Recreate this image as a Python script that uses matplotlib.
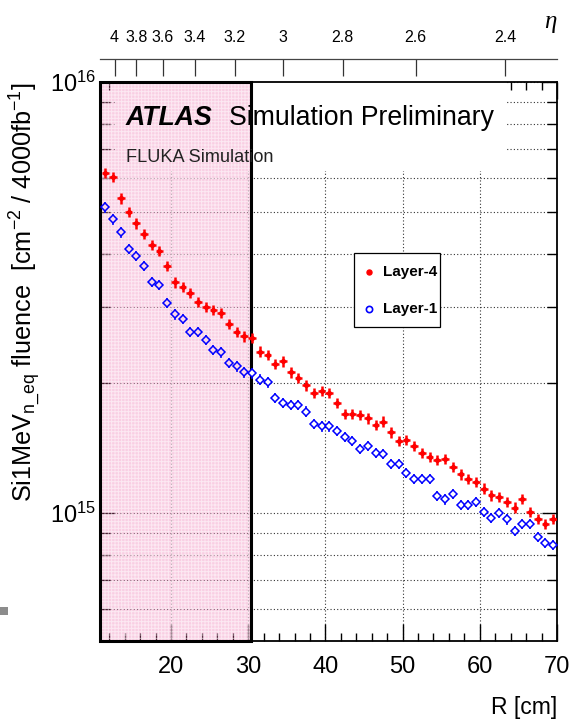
import numpy as np
import matplotlib
matplotlib.use("Agg")
import matplotlib.pyplot as plt
from matplotlib.patches import Rectangle
from matplotlib.lines import Line2D
from matplotlib.ticker import MultipleLocator, LogLocator, NullFormatter, NullLocator

plt.rcParams['font.family'] = ['Liberation Sans', 'DejaVu Sans']
plt.rcParams['mathtext.fontset'] = 'custom'
plt.rcParams['mathtext.rm'] = 'Liberation Sans'
plt.rcParams['mathtext.it'] = 'Liberation Sans:italic'
plt.rcParams['mathtext.bf'] = 'Liberation Sans:bold'
plt.rcParams['hatch.linewidth'] = 0.7

# radial bin centres [cm], 1 cm bins
radius = np.arange(11.5, 70.0, 1.0)

# 1 MeV neq fluence for 4000 fb^-1 [cm^-2]
layer4 = np.array([
    6.16, 6.03, 5.37, 5.00, 4.70, 4.44, 4.19, 4.06, 3.74, 3.43,
    3.35, 3.24, 3.09, 3.01, 2.96, 2.91, 2.75, 2.63, 2.57, 2.55,
    2.37, 2.33, 2.22, 2.25, 2.12, 2.06, 1.98, 1.90, 1.92, 1.90,
    1.80, 1.70, 1.70, 1.69, 1.66, 1.60, 1.63, 1.54, 1.47, 1.48,
    1.43, 1.38, 1.35, 1.33, 1.335, 1.28, 1.23, 1.20, 1.18, 1.14,
    1.10, 1.09, 1.06, 1.03, 1.08, 1.007, 0.970, 0.943, 0.970]) * 1e15
layer1 = np.array([
    5.12, 4.80, 4.48, 4.10, 3.95, 3.74, 3.44, 3.38, 3.07, 2.89,
    2.82, 2.63, 2.63, 2.52, 2.39, 2.36, 2.23, 2.19, 2.12, 2.11,
    2.04, 2.01, 1.85, 1.80, 1.78, 1.78, 1.72, 1.61, 1.59, 1.59,
    1.55, 1.50, 1.47, 1.41, 1.43, 1.38, 1.37, 1.30, 1.30, 1.24,
    1.20, 1.20, 1.20, 1.095, 1.076, 1.107, 1.044, 1.044, 1.062, 1.007,
    0.975, 1.002, 0.967, 0.910, 0.943, 0.943, 0.881, 0.853, 0.843]) * 1e15
rel_err = 0.028
bin_half = 0.5

eta_ticks = [4, 3.8, 3.6, 3.4, 3.2, 3, 2.8, 2.6, 2.4]
eta_labels = ["4", "3.8", "3.6", "3.4", "3.2", "3", "2.8", "2.6", "2.4"]
z_disk = 346.0      # cm
r_shade = 30.3      # inner region shaded

xmin, xmax = 10.8, 70.0
ymin, ymax = 5.05e14, 1e16


def r_to_eta(r):
    r = np.asarray(r, dtype=float)
    with np.errstate(divide='ignore', invalid='ignore'):
        return np.arcsinh(z_disk / r)


def eta_to_r(eta):
    eta = np.asarray(eta, dtype=float)
    with np.errstate(divide='ignore', invalid='ignore'):
        return z_disk / np.sinh(eta)


fig = plt.figure(figsize=(5.72, 7.2), dpi=100)
ax = fig.add_axes([100/572, 79/720, 457/572, 559/720])
ax.set_xlim(xmin, xmax)
ax.set_yscale('log')
ax.set_ylim(ymin, ymax)
ax.set_axisbelow(True)

# grid
dots = (0, (1, 2))
ax.xaxis.set_major_locator(MultipleLocator(10))
ax.xaxis.set_minor_locator(MultipleLocator(2))
ax.yaxis.set_major_locator(LogLocator(base=10))
ax.yaxis.set_minor_locator(LogLocator(base=10, subs=np.arange(2, 10)))
ax.yaxis.set_minor_formatter(NullFormatter())
ax.grid(which='major', axis='x', ls=dots, color='#333333', lw=0.8)
ax.grid(which='both', axis='y', ls=dots, color='#333333', lw=0.8)

# white box behind the labels
ax.add_patch(Rectangle((0.037, 0.841), 0.849, 0.159, transform=ax.transAxes,
                       fc='white', ec='none', zorder=0.8))

# shaded inner region
ax.axvspan(xmin, r_shade, fc=(0.93, 0.41, 0.66, 0.32), ec='none', zorder=1)
ax.axvspan(xmin, r_shade, fc='none', ec=(1, 1, 1, 0.55), lw=0, hatch='+++++', zorder=1.1)
ax.axvspan(xmin, r_shade, fc='none', ec='black', lw=2.2, zorder=2.6, clip_on=False)

# Layer-4
ax.errorbar(radius, layer4, xerr=bin_half, yerr=rel_err * layer4, fmt='o', color='red',
            ms=2.7, elinewidth=1.8, capsize=0, zorder=4)

# Layer-1
ax.errorbar(radius, layer1, xerr=bin_half, yerr=rel_err * layer1, fmt='none', ecolor='blue',
            elinewidth=1.1, capsize=0, zorder=3)
inner = radius < r_shade
ax.plot(radius[inner], layer1[inner], ls='none', marker='D', ms=3.6, mew=1.1,
        mec='blue', mfc='#fbd6e6', zorder=3.5)
ax.plot(radius[~inner], layer1[~inner], ls='none', marker='D', ms=3.6, mew=1.1,
        mec='blue', mfc='white', zorder=3.5)

for s in ax.spines.values():
    s.set_linewidth(1.3)

ax.tick_params(which='both', direction='in', top=True, right=True, width=1.0)
ax.tick_params(axis='x', which='major', length=12, labelsize=17, pad=11)
ax.tick_params(axis='x', which='minor', length=6)
ax.tick_params(axis='y', which='major', length=11, labelsize=17, pad=3)
ax.tick_params(axis='y', which='minor', length=7)

ax.set_xlabel('R [cm]', loc='right', fontsize=16.5, labelpad=13)
ax.set_ylabel(r'Si1MeV$_{\mathregular{n\_eq}}$ fluence  [cm$^{\mathregular{-2}}$ / 4000fb$^{\mathregular{-1}}$]',
              loc='top', fontsize=18.2, labelpad=4)

# pseudorapidity scale
secax = ax.secondary_xaxis(1.041, functions=(r_to_eta, eta_to_r))
secax.set_xticks(eta_ticks, labels=eta_labels)
secax.xaxis.set_minor_locator(NullLocator())
secax.tick_params(direction='in', length=12, width=0.9, labelsize=11.5, pad=10, color='#333333')
for s in secax.spines.values():
    s.set_linewidth(0.9)
    s.set_color('#444444')
fig.text(550/572, 1 - 22/720, 'η', family='Liberation Serif', style='italic',
         fontsize=18, ha='center', va='center')

ax.text(0.0569, 0.923, 'ATLAS', transform=ax.transAxes, fontsize=19.2,
        fontweight='bold', style='italic', va='baseline', zorder=6)
ax.text(0.2823, 0.923, 'Simulation Preliminary', transform=ax.transAxes, fontsize=19.2,
        va='baseline', zorder=6)
ax.text(0.0569, 0.8574, 'FLUKA Simulation', transform=ax.transAxes, fontsize=13.1,
        color='#222222', va='baseline', zorder=6)

# legend
fig.add_artist(Rectangle((354/572, 1 - 327/720), 86/572, 74/720, transform=fig.transFigure,
                         fc='white', ec='black', lw=0.9, zorder=5))
fig.add_artist(Line2D([369/572], [1 - 272/720], marker='o', ms=3.6, color='red', ls='none',
                      transform=fig.transFigure, zorder=6))
fig.add_artist(Line2D([369/572], [1 - 309/720], marker='o', ms=4.5, mfc='white', mec='blue',
                      mew=1.2, ls='none', transform=fig.transFigure, zorder=6))
fig.text(383/572, 1 - 272/720, 'Layer-4', fontsize=11, fontweight='bold', va='center', zorder=6)
fig.text(383/572, 1 - 309/720, 'Layer-1', fontsize=11, fontweight='bold', va='center', zorder=6)

fig.add_artist(Rectangle((0, 1 - 615/720), 8/572, 8/720, transform=fig.transFigure,
                         fc='#8c8c8c', ec='none'))

fig.savefig('out.png', dpi=100)
